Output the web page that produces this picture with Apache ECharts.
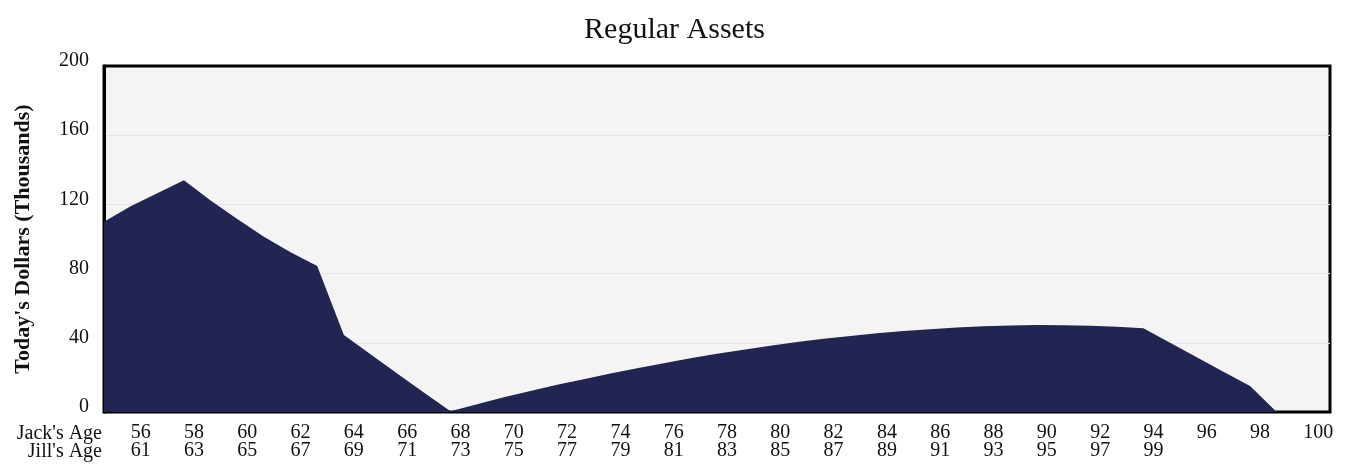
<!DOCTYPE html>
<html>
<head>
<meta charset="utf-8">
<title>Regular Assets</title>
<script src="https://cdn.jsdelivr.net/npm/echarts@6/dist/echarts.min.js"></script>
<style>
  html, body { margin: 0; padding: 0; background: #ffffff; }
  #chart { width: 1349px; height: 472px; }
</style>
</head>
<body>
<div id="chart"></div>
<script>
// Jack's age for each year of the projection
const jackAges = [
  55, 56, 57, 58, 59, 60, 61, 62, 63, 64, 65, 66, 67, 68, 69, 70,
  71, 72, 73, 74, 75, 76, 77, 78, 79, 80, 81, 82, 83, 84, 85, 86,
  87, 88, 89, 90, 91, 92, 93, 94, 95, 96, 97, 98, 99, 100, 101
];
// Jill is five years older; her row stops after 99
const jillOffset = 5;
const jillLastAge = 99;

// Regular assets, today's dollars (thousands)
const regularAssets = [
  110, 119, 126.5, 134, 122.2, 111.6, 101.3, 92.3, 84.4, 44.5, 33.4, 22.3, 11.2, 0.5, 4.5, 8.5,
  12.2, 15.8, 19, 22.2, 25.3, 28.2, 31, 33.6, 36, 38.3, 40.4, 42.3, 44, 45.5, 46.8, 47.9,
  48.8, 49.5, 50, 50.3, 50.2, 49.9, 49.3, 48.4, 40, 31.7, 23.3, 15, 0, 0, 0
];

const yTicks = { min: 0, max: 200, interval: 40 };

// Row headers shown left of the age rows
const rowHeaders = ["Jack's Age", "Jill's Age"];

const serif = '"Liberation Serif", "DejaVu Serif", serif';

const chart = echarts.init(document.getElementById('chart'), null, { renderer: 'canvas' });

chart.setOption({
  animation: false,
  backgroundColor: '#ffffff',
  textStyle: { fontFamily: serif, color: '#111111' },
  title: {
    text: 'Regular Assets',
    left: 'center',
    top: 10,
    textStyle: { fontFamily: serif, fontSize: 30, fontWeight: 'normal', color: '#111111' }
  },
  grid: {
    left: 104,
    right: 19,
    top: 66,
    bottom: 60,
    show: true,
    backgroundColor: '#f4f4f4',
    borderColor: '#000000',
    borderWidth: 3
  },
  xAxis: {
    type: 'category',
    data: jackAges,
    boundaryGap: false,
    axisLine: { show: true, lineStyle: { color: '#000000', width: 2 } },
    axisTick: { show: false },
    splitLine: { show: false },
    axisLabel: {
      interval: (index) => index % 2 === 1,
      align: 'left',
      margin: 12,
      fontFamily: serif,
      fontSize: 20,
      lineHeight: 18,
      color: '#111111',
      formatter: (value) => {
        const jack = Number(value);
        const jill = jack + jillOffset;
        return jill <= jillLastAge ? jack + '\n' + jill : String(jack);
      }
    }
  },
  yAxis: {
    type: 'value',
    min: yTicks.min,
    max: yTicks.max,
    interval: yTicks.interval,
    name: "Today's Dollars (Thousands)",
    nameLocation: 'middle',
    nameGap: 70,
    nameTextStyle: { fontFamily: serif, fontSize: 22, fontWeight: 'bold', color: '#111111' },
    axisLine: { show: true, lineStyle: { color: '#000000', width: 3 } },
    axisTick: { show: false },
    splitLine: {
      show: true,
      showMinLine: false,
      showMaxLine: false,
      lineStyle: { color: '#e2e2ee', width: 1 }
    },
    axisLabel: {
      margin: 15,
      fontFamily: serif,
      fontSize: 20,
      color: '#111111',
      verticalAlign: 'bottom',
      lineHeight: 10
    }
  },
  graphic: rowHeaders.map((label, i) => ({
    type: 'text',
    right: 1349 - 102,
    top: 424 + i * 18,
    style: {
      text: label,
      fontFamily: serif,
      fontSize: 20,
      fill: '#111111'
    }
  })),
  series: [
    {
      name: 'Regular Assets',
      type: 'line',
      data: regularAssets,
      symbol: 'none',
      smooth: false,
      lineStyle: { width: 0, color: '#222451' },
      areaStyle: { color: '#222451', opacity: 1 },
      z: 2
    }
  ]
});
</script>
</body>
</html>
